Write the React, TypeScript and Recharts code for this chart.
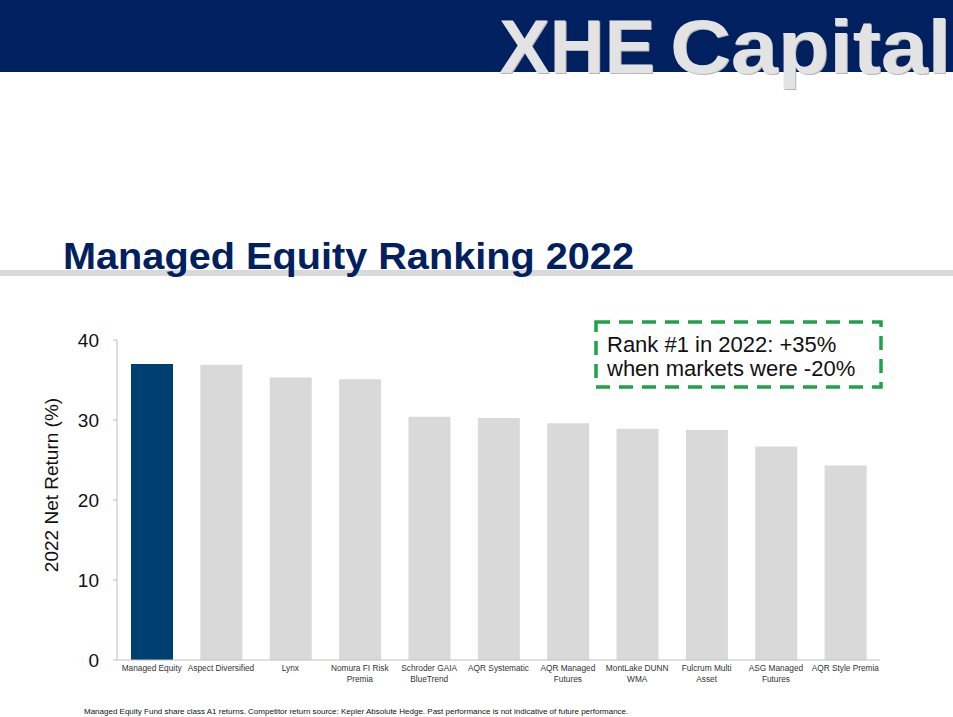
import { Bar, BarChart, Cell, XAxis, YAxis } from "recharts";

const funds = [
    'Managed Equity',
    'Aspect Diversified',
    'Lynx',
    'Nomura FI Risk\nPremia',
    'Schroder GAIA\nBlueTrend',
    'AQR Systematic',
    'AQR Managed\nFutures',
    'MontLake DUNN\nWMA',
    'Fulcrum Multi\nAsset',
    'ASG Managed\nFutures',
    'AQR Style Premia',
];

const returns2022 = [37.0, 36.9, 35.3, 35.1, 30.4, 30.25, 29.6, 28.9, 28.75, 26.7, 24.3];

const yTicks = [0, 10, 20, 30, 40];

const NAVY = '#002060';
const HIGHLIGHT = '#003F72';
const PEER = '#D9D9D9';
const FONT = 'Arial, "Liberation Sans", Helvetica, sans-serif';

const data = funds.map((name, i) => ({ name, value: returns2022[i] }));

// eslint-disable-next-line @typescript-eslint/ban-ts-comment
//@ts-expect-error
const FundTick = ({ x, y, payload }) => {
    const lines = String(payload.value).split('\n');
    return (
        <text x={x} y={y} textAnchor="middle" fontSize={8.3} fill="#333" fontFamily={FONT}>
            {lines.map((line, i) => (
                <tspan key={i} x={x} dy={i === 0 ? 3 : 11}>{line}</tspan>
            ))}
        </text>
    );
};

const App = () => {
    return (
        <div style={{ position: 'fixed', left: 0, top: 0, width: 953, height: 717, background: '#fff', overflow: 'hidden' }}>
            {/* header, title and rule */}
            <svg width={953} height={300} style={{ position: 'absolute', left: 0, top: 0 }}>
                <rect x={0} y={0} width={953} height={72} fill={NAVY} />
                <g fontFamily={FONT} fontWeight="bold" fontSize={76}>
                    <text x={499} y={73} textLength={156} lengthAdjust="spacingAndGlyphs" fill="#b5b5b5" transform="translate(1,1)">XHE</text>
                    <text x={499} y={73} textLength={156} lengthAdjust="spacingAndGlyphs" fill="#E3E3E3">XHE</text>
                    <text x={670} y={73} textLength={281} lengthAdjust="spacingAndGlyphs" fill="#b5b5b5" transform="translate(1,1)">Capital</text>
                    <text x={670} y={73} textLength={281} lengthAdjust="spacingAndGlyphs" fill="#E3E3E3">Capital</text>
                </g>
                <rect x={0} y={270} width={953} height={6} fill={PEER} />
                <text x={63} y={269} fontFamily={FONT} fontWeight="bold" fontSize={36} fill={NAVY}
                      textLength={571} lengthAdjust="spacingAndGlyphs">Managed Equity Ranking 2022</text>
            </svg>

            <div style={{ position: 'absolute', left: 0, top: 0 }}>
                <BarChart width={953} height={717} data={data}
                          margin={{ top: 340, right: 73, bottom: 27, left: 57 }}>
                    <XAxis dataKey="name" interval={0} tickLine={false} height={30}
                           axisLine={{ stroke: '#BFBFBF' }} tick={FundTick} />
                    <YAxis domain={[0, 40]} ticks={yTicks} width={60} tickSize={4} tickMargin={14}
                           axisLine={{ stroke: '#BFBFBF' }} tickLine={{ stroke: '#BFBFBF' }}
                           tick={{ fontSize: 19, fill: '#111', fontFamily: FONT }} />
                    <Bar dataKey="value" barSize={42} isAnimationActive={false}>
                        {data.map((entry, index) => (
                            <Cell key={`cell-${index}`} fill={index === 0 ? HIGHLIGHT : PEER} />
                        ))}
                    </Bar>
                </BarChart>
            </div>

            {/* axis title, callout, footnote */}
            <svg width={953} height={717} style={{ position: 'absolute', left: 0, top: 0, pointerEvents: 'none' }}>
                <text x={58} y={485} transform="rotate(-90, 58, 485)" textAnchor="middle" fontSize={19}
                      fill="#111" fontFamily={FONT}>2022 Net Return (%)</text>
                <rect x={596} y={322} width={285} height={65} fill="none" stroke="#1FA34A"
                      strokeWidth={3.5} strokeDasharray="14 9" />
                <text x={607} y={352} fontSize={22} fill="#111" fontFamily={FONT}>Rank #1 in 2022: +35%</text>
                <text x={607} y={376} fontSize={22} fill="#111" fontFamily={FONT}>when markets were -20%</text>
                <text x={84} y={714} fontSize={8} fill="#111" fontFamily={FONT}>
                    Managed Equity Fund share class A1 returns. Competitor return source: Kepler Absolute Hedge. Past performance is not indicative of future performance.
                </text>
            </svg>
        </div>
    );
};

export default App;
